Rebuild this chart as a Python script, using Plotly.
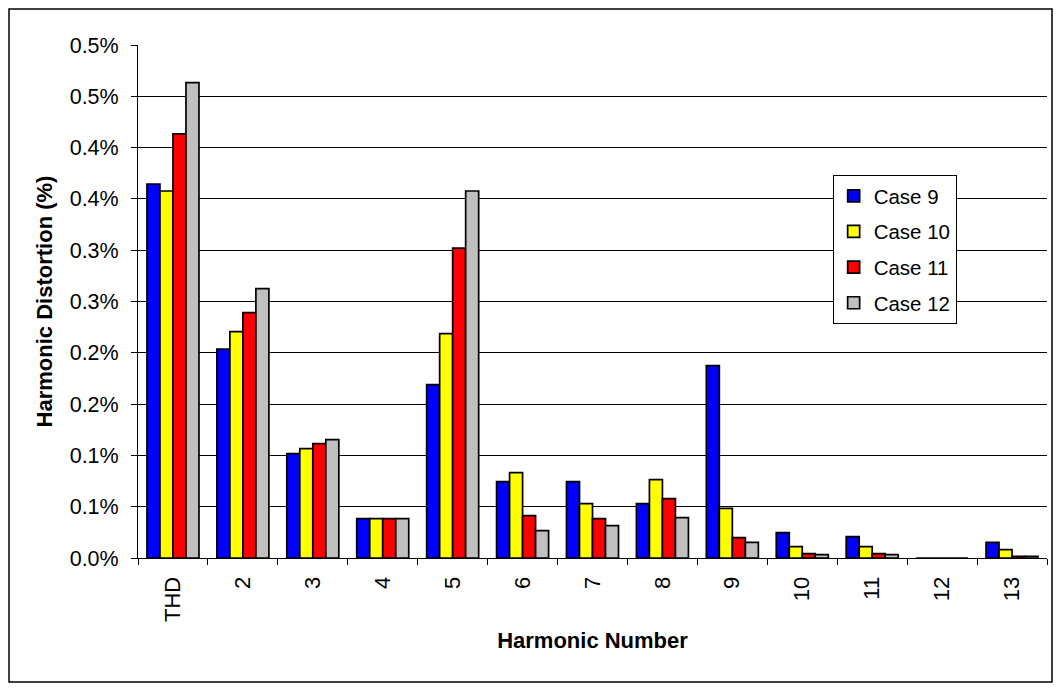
import plotly.graph_objects as go

categories = ["THD", "2", "3", "4", "5", "6", "7", "8", "9", "10", "11", "12", "13"]
case9 = [0.3645, 0.2037, 0.1017, 0.0383, 0.1689, 0.0744, 0.0744, 0.0530, 0.1875, 0.0247, 0.0208, 0.0, 0.0153]
case10 = [0.3577, 0.2206, 0.1066, 0.0383, 0.2186, 0.0832, 0.0530, 0.0763, 0.0484, 0.0110, 0.0110, 0.0, 0.0081]
case11 = [0.4133, 0.2391, 0.1114, 0.0383, 0.3021, 0.0413, 0.0383, 0.0578, 0.0198, 0.0042, 0.0042, 0.0, 0.0017]
case12 = [0.4633, 0.2625, 0.1153, 0.0383, 0.3577, 0.0266, 0.0315, 0.0393, 0.0153, 0.0032, 0.0032, 0.0, 0.0017]
series_names = ["Case 9", "Case 10", "Case 11", "Case 12"]
series_colors = ["#0000FF", "#FFFF00", "#FF0000", "#C0C0C0"]
ytick_vals = [0.0, 0.05, 0.1, 0.15, 0.2, 0.25, 0.3, 0.35, 0.4, 0.45, 0.5]
ytick_text = ["0.0%", "0.1%", "0.1%", "0.2%", "0.2%", "0.3%", "0.3%", "0.4%", "0.4%", "0.5%", "0.5%"]

FONT = "Liberation Sans, Arial, sans-serif"

fig = go.Figure()
for name, vals, col in zip(series_names, [case9, case10, case11, case12], series_colors):
    fig.add_trace(go.Bar(
        x=categories, y=vals, name=name, legendgroup=name,
        marker=dict(color=col, line=dict(color="black", width=1.7)),
    ))

fig.update_layout(
    width=1053, height=683,
    margin=dict(l=130, r=14, t=37, b=133),
    paper_bgcolor="white", plot_bgcolor="white",
    barmode="group", bargap=0.256, bargroupgap=0,
    font=dict(family=FONT, size=22, color="black"),
    legend=dict(
        x=0.7642, y=0.7466, xanchor="left", yanchor="top",
        bordercolor="black", borderwidth=1, bgcolor="white",
        font=dict(size=20.5), traceorder="grouped", tracegroupgap=6,
    ),
    showlegend=True,
)
fig.update_xaxes(
    type="category", showline=True, linecolor="black", linewidth=1,
    ticks="outside", ticklen=6, tickcolor="black", tickson="boundaries",
    tickangle=-90, showgrid=False, ticklabelstandoff=9,
    tickfont=dict(size=22),
    title=dict(text="<b>Harmonic Number</b>", font=dict(size=22), standoff=11),
)
fig.update_yaxes(
    range=[0, 0.5], tickvals=ytick_vals, ticktext=ytick_text,
    showline=True, linecolor="black", linewidth=1,
    ticks="outside", ticklen=6, tickcolor="black", ticklabelstandoff=8,
    tickfont=dict(size=21.5),
    showgrid=True, gridcolor="black", gridwidth=1, zeroline=False,
    title=dict(text="<b>Harmonic Distortion (%)</b>", font=dict(size=22), standoff=10),
)
fig.add_shape(type="rect", xref="paper", yref="paper",
              x0=-0.1419, x1=1.0055, y0=-0.2417, y1=1.0702,
              line=dict(color="black", width=1.5))
fig.write_html("out.html")
